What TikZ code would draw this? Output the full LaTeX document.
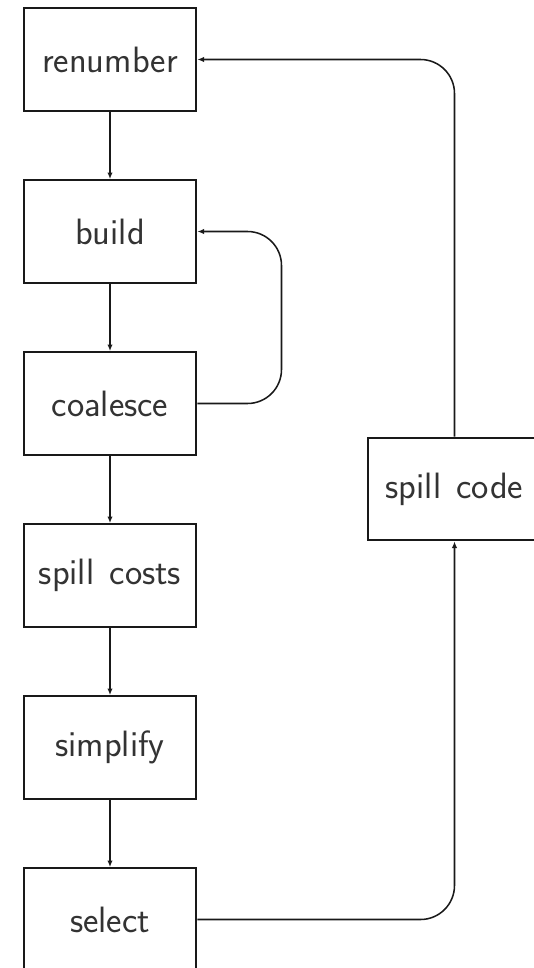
\documentclass[tikz,border=0pt]{standalone}
\usetikzlibrary{arrows.meta}
\begin{document}
\begin{tikzpicture}[x=0.75pt,y=-0.75pt,
  stage/.style={draw=black!90, line width=1.5pt, minimum width=129.5pt, minimum height=77pt,
    inner sep=0pt, font=\sffamily\fontsize{27.5}{30}\selectfont, text=black!80},
  flow/.style={draw=black!90, line width=1.15pt, -{Latex[length=5pt,width=4pt]}},
  loop/.style={flow, rounded corners=25.5pt}]
\useasboundingbox (0,0) rectangle (533,968);
% main pipeline
\node[stage] (renumber) at (110,59.5)  {renumber};
\node[stage] (build)    at (110,231.5) {build};
\node[stage] (coalesce) at (110,403.5) {coalesce};
\node[stage] (costs)    at (110,575.5) {spill\hspace{0.42em}costs};
\node[stage] (simplify) at (110,747.5) {simplify};
\node[stage] (select)   at (110,919.5) {select};
\node[stage] (code)     at (454.5,489) {spill\hspace{0.42em}code};
% column used by the coalesce loop
\coordinate (bx) at (281.5,0);
\draw[flow] (renumber) -- (build);
\draw[flow] (build) -- (coalesce);
\draw[flow] (coalesce) -- (costs);
\draw[flow] (costs) -- (simplify);
\draw[flow] (simplify) -- (select);
\draw[loop] (coalesce.east) -- (coalesce.east -| bx) -- (build.east -| bx) -- (build.east);
\draw[loop] (select.east) -- (select.east -| code.south) -- (code.south);
\draw[loop] (code.north) -- (code.north |- renumber.east) -- (renumber.east);
\end{tikzpicture}
\end{document}
